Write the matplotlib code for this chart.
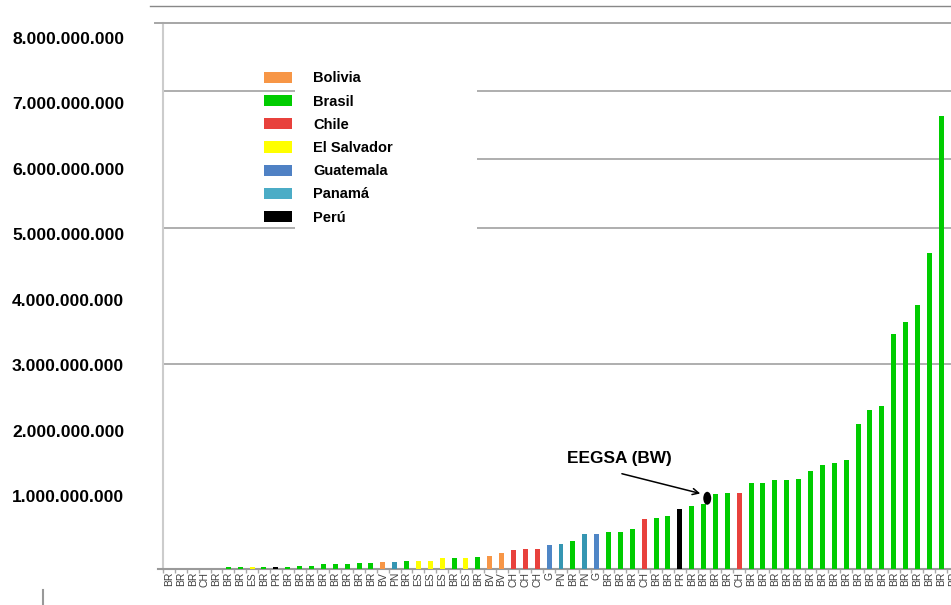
import numpy as np
import matplotlib
matplotlib.use("Agg")
import matplotlib.pyplot as plt
from matplotlib.patches import Patch, Rectangle, Ellipse
from matplotlib.lines import Line2D

plt.rcParams['font.family'] = ['Liberation Sans', 'DejaVu Sans']

# códigos de país de cada barra (ordenadas de menor a mayor)
codes = ['BR', 'BR', 'BR', 'CH', 'BR', 'BR', 'BR', 'ES', 'BR', 'PR',
         'BR', 'BR', 'BR', 'BR', 'BR', 'BR', 'BR', 'BR', 'BV', 'PN',
         'BR', 'ES', 'ES', 'ES', 'BR', 'ES', 'BR', 'BV', 'BV', 'CH',
         'CH', 'CH', 'G', 'PN', 'BR', 'PN', 'G', 'BR', 'BR', 'BR',
         'CH', 'BR', 'BR', 'PR', 'BR', 'BR', 'BR', 'BR', 'CH', 'BR',
         'BR', 'BR', 'BR', 'BR', 'BR', 'BR', 'BR', 'BR', 'BR', 'BR',
         'BR', 'BR', 'BR', 'BR', 'BR', 'BR', 'BR']

# valores en miles de millones
values_bn = [0, 0, 0, 0, 0, 0.02, 0.02, 0.015, 0.02, 0.025,
             0.02, 0.04, 0.04, 0.06, 0.06, 0.06, 0.08, 0.08, 0.095, 0.095,
             0.115, 0.11, 0.115, 0.15, 0.15, 0.15, 0.17, 0.19, 0.23, 0.27,
             0.28, 0.28, 0.34, 0.36, 0.41, 0.51, 0.51, 0.53, 0.53, 0.585,
             0.72, 0.74, 0.77, 0.87, 0.92, 0.94, 1.09, 1.10, 1.10, 1.255,
             1.255, 1.30, 1.30, 1.31, 1.43, 1.52, 1.54, 1.59, 2.12, 2.33,
             2.39, 3.44, 3.61, 3.87, 4.62, 6.63, 7.76]
values = np.array(values_bn) * 1e9

countries = ['Bolivia', 'Brasil', 'Chile', 'El Salvador', 'Guatemala', 'Panamá', 'Perú']
country_codes = ['BV', 'BR', 'CH', 'ES', 'G', 'PN', 'PR']
legend_colors = ['#F79646', '#00CC00', '#E8413C', '#FFFF00', '#4F81C4', '#4BACC6', '#000000']
bar_colors = ['#F79646', '#00CC00', '#E8413C', '#FFFF00', '#4F86C6', '#3596B2', '#000000']

yticks = [1e9, 2e9, 3e9, 4e9, 5e9, 6e9, 7e9, 8e9]
gridlines = [3e9, 5e9, 7e9]

eegsa_idx = 45  # barra señalada

W, H = 951, 605
fig = plt.figure(figsize=(W / 100, H / 100), dpi=100)

# eje solo para las etiquetas del eje y
ax_lab = fig.add_axes([163 / W, 43.6 / H, 796 / W, 523.4 / H])
ax_lab.set_ylim(0, 8e9)
ax_lab.set_yticks(yticks)
ax_lab.set_yticklabels([f"{int(v):,}".replace(',', '.') for v in yticks],
                       fontsize=12.6, fontweight='bold')
ax_lab.tick_params(axis='y', length=0, pad=28)
ax_lab.set_xticks([])
for s in ax_lab.spines.values():
    s.set_visible(False)
ax_lab.patch.set_visible(False)

# eje principal
ax = fig.add_axes([163 / W, (H - 568.5) / H, 796 / W, 545.5 / H])
ax.set_xlim(-0.5, 66.5)
ax.set_ylim(0, 8e9)

cmap = dict(zip(country_codes, bar_colors))
x = np.arange(len(codes))
ax.bar(x, values, width=0.42, color=[cmap[c] for c in codes], zorder=3)

for g in gridlines:
    ax.axhline(g, color='#a8a8a8', lw=1.3, zorder=1)
# la línea de 6.000.000.000 solo aparece a la derecha de la leyenda
ax.axhline(6e9, xmin=(477 - 163) / 796, color='#a8a8a8', lw=1.3, zorder=1)

# fondo blanco de la leyenda
ax.add_patch(Rectangle((295 / W, 1 - 240 / H), 182 / W, 165 / H,
                       transform=fig.transFigure, facecolor='white',
                       edgecolor='none', zorder=1.5))

handles = [Patch(facecolor=c, edgecolor='none') for c in legend_colors]
leg = ax.legend(handles, countries, loc='upper left',
                bbox_to_anchor=(264 / W, 1 - 71.5 / H), bbox_transform=fig.transFigure,
                frameon=False, borderpad=0, borderaxespad=0,
                handlelength=1.92, handleheight=0.82, handletextpad=1.44,
                labelspacing=0.63, prop={'weight': 'bold', 'size': 10.5})
leg.set_zorder(4)

ax.set_xticks(x)
ax.set_xticklabels(codes, rotation=90, fontsize=7.5, color='#404040')
ax.set_xticks(np.arange(-0.5, len(codes), 1), minor=True)
ax.tick_params(axis='x', which='major', length=0, pad=2.5)
ax.tick_params(axis='x', which='minor', length=3, color='#aaaaaa', width=1)
ax.set_yticks([])

ax.spines['top'].set_visible(False)
ax.spines['right'].set_visible(False)
ax.spines['left'].set_color('#cccccc')
ax.spines['left'].set_linewidth(1.5)
ax.spines['bottom'].set_color('#9a9a9a')
ax.spines['bottom'].set_linewidth(1.5)
ax.spines['bottom'].set_zorder(2)

# EEGSA
v = values[eegsa_idx]
ax.text(eegsa_idx - 7.08, v + 0.68e9, 'EEGSA (BW)', ha='center', va='center',
        fontsize=12.4, fontweight='bold')
ax.annotate('', xy=(eegsa_idx - 0.05, v + 0.15e9), xytext=(eegsa_idx - 7.1, v + 0.46e9),
            arrowprops=dict(arrowstyle='->', lw=1.1, color='black', mutation_scale=11),
            zorder=5)
ax.add_patch(Ellipse((eegsa_idx + 0.31, v + 0.09e9), 0.67, 0.19e9,
                     facecolor='black', edgecolor='none', zorder=5))

# líneas sueltas del marco
fig.add_artist(Line2D([150 / W, 1], [1 - 6 / H, 1 - 6 / H], color='#888888', lw=1.0))
fig.add_artist(Line2D([155 / W, 1], [1 - 23 / H, 1 - 23 / H], color='#a6a6a6', lw=1.4))
fig.add_artist(Line2D([158 / W, 163 / W], [1 - 568.5 / H, 1 - 568.5 / H], color='#9a9a9a', lw=1.5))
fig.add_artist(Line2D([42.7 / W, 42.7 / W], [0, 15 / H], color='#999999', lw=1.5))

fig.savefig('out.png', dpi=100)
